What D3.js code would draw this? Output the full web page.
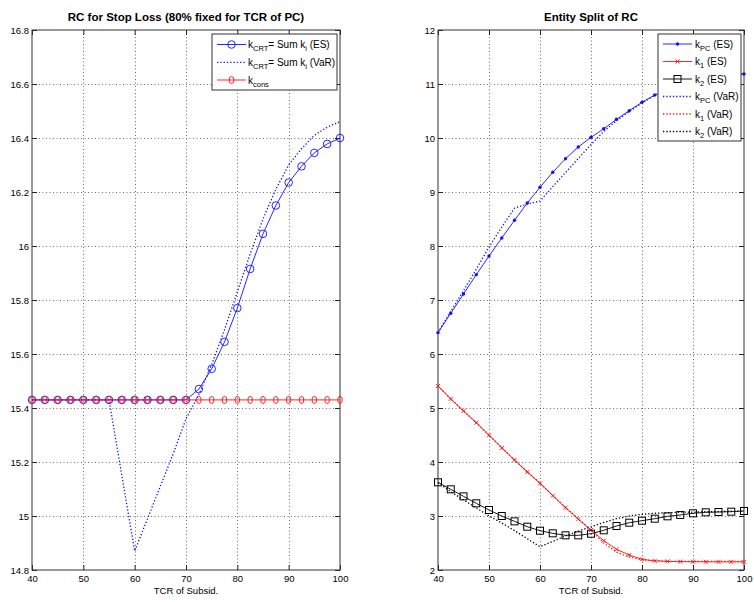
<!DOCTYPE html>
<html><head><meta charset="utf-8">
<script src="https://cdn.jsdelivr.net/npm/d3@7"></script>
<style>
body{margin:0;background:#fff}
text{font-family:"Liberation Sans",Arial,Helvetica,sans-serif;fill:#000}
</style>
</head><body><svg id="c" width="754" height="602"></svg>
<script>
// ---------- DATA ----------
const tcr = [40,42.5,45,47.5,50,52.5,55,57.5,60,62.5,65,67.5,70,72.5,75,77.5,80,82.5,85,87.5,90,92.5,95,97.5,100];

// Left panel: RC for Stop Loss
const kCRT_ES  = [15.43,15.43,15.43,15.43,15.43,15.43,15.43,15.43,15.43,15.43,15.43,15.43,15.43,15.47,15.545,15.645,15.77,15.915,16.045,16.15,16.235,16.295,16.345,16.378,16.40];
const kCRT_VaR = [15.43,15.43,15.43,15.43,15.43,15.43,15.43,15.15,14.87,14.99,15.11,15.23,15.36,15.45,15.56,15.69,15.83,15.97,16.10,16.21,16.30,16.36,16.41,16.44,16.46];
const kCons    = [15.43,15.43,15.43,15.43,15.43,15.43,15.43,15.43,15.43,15.43,15.43,15.43,15.43,15.43,15.43,15.43,15.43,15.43,15.43,15.43,15.43,15.43,15.43,15.43,15.43];

// Right panel: Entity Split of RC
const kPC_ES  = [6.395,6.754,7.111,7.469,7.815,8.148,8.476,8.796,9.087,9.365,9.617,9.833,10.013,10.17,10.346,10.506,10.661,10.796,10.90,10.98,11.04,11.09,11.13,11.16,11.185];
const k1_ES   = [5.407,5.167,4.944,4.728,4.494,4.259,4.037,3.815,3.605,3.376,3.154,2.94,2.741,2.543,2.383,2.278,2.198,2.17,2.16,2.155,2.153,2.152,2.15,2.15,2.15];
const k2_ES   = [3.624,3.494,3.364,3.235,3.111,3.0,2.901,2.802,2.728,2.679,2.642,2.642,2.672,2.735,2.815,2.876,2.913,2.95,2.994,3.019,3.05,3.068,3.074,3.08,3.093];
const kPC_VaR = [6.40,6.79,7.17,7.57,7.98,8.35,8.70,8.78,8.83,9.10,9.36,9.62,9.88,10.12,10.32,10.49,10.65,10.79,10.90,10.98,11.04,11.09,11.13,11.16,11.19];
const k1_VaR  = [5.41,5.17,4.95,4.73,4.50,4.27,4.04,3.82,3.61,3.38,3.16,2.95,2.74,2.50,2.33,2.24,2.19,2.17,2.16,2.16,2.16,2.16,2.16,2.16,2.16];
const k2_VaR  = [3.62,3.45,3.30,3.15,3.00,2.87,2.73,2.58,2.43,2.53,2.63,2.72,2.80,2.88,2.95,3.00,3.03,3.05,3.06,3.07,3.07,3.08,3.08,3.09,3.09];

// Ticks and labels
const xTicks = [40,50,60,70,80,90,100];
const leftYTicks = [14.8,15,15.2,15.4,15.6,15.8,16,16.2,16.4,16.6,16.8];
const leftYLabels = ["14.8","15","15.2","15.4","15.6","15.8","16","16.2","16.4","16.6","16.8"];
const rightYTicks = [2,3,4,5,6,7,8,9,10,11,12];
const rightYLabels = ["2","3","4","5","6","7","8","9","10","11","12"];
const titles = ["RC for Stop Loss (80% fixed for TCR of PC)", "Entity Split of RC"];
const xLabel = "TCR of Subsid.";

// ---------- DRAW ----------
const svg = d3.select("#c");
svg.append("rect").attr("width",754).attr("height",602).attr("fill","#fff");

const FS = 9.5;
const LFS = 10;
const BLUE = "#1010ff", RED = "#ff1010", BLACK = "#000";

function panel(opts){
  const {x0,x1,y0,y1,yDomain,yTicks,yLabels,title} = opts;
  const x = d3.scaleLinear().domain([40,100]).range([x0,x1]);
  const y = d3.scaleLinear().domain(yDomain).range([y1,y0]);
  const g = svg.append("g");
  // grid
  const grid = g.append("g").attr("stroke","#6e6e6e").attr("stroke-width",1).attr("stroke-dasharray","1,2.5");
  xTicks.slice(1,-1).forEach(t=>grid.append("line").attr("x1",Math.round(x(t))+0.5).attr("x2",Math.round(x(t))+0.5).attr("y1",y0).attr("y2",y1));
  yTicks.slice(1,-1).forEach(t=>grid.append("line").attr("y1",Math.round(y(t))+0.5).attr("y2",Math.round(y(t))+0.5).attr("x1",x0).attr("x2",x1));
  // axes (inward ticks)
  const fmtY = d => yLabels[yTicks.indexOf(d)];
  const ax = [
    g.append("g").attr("transform",`translate(0,${y1})`).call(d3.axisBottom(x).tickValues(xTicks).tickSizeInner(-5).tickSizeOuter(0).tickPadding(5).tickFormat(d3.format("d"))),
    g.append("g").attr("transform",`translate(0,${y0})`).call(d3.axisTop(x).tickValues(xTicks).tickSizeInner(-5).tickSizeOuter(0).tickFormat("")),
    g.append("g").attr("transform",`translate(${x0},0)`).call(d3.axisLeft(y).tickValues(yTicks).tickSizeInner(-5).tickSizeOuter(0).tickPadding(3).tickFormat(fmtY)),
    g.append("g").attr("transform",`translate(${x1},0)`).call(d3.axisRight(y).tickValues(yTicks).tickSizeInner(-5).tickSizeOuter(0).tickFormat(""))
  ];
  ax.forEach(a=>{
    a.select(".domain").remove();
    a.selectAll("line").attr("stroke","#222");
    a.selectAll("text").attr("font-size",FS).attr("font-family","'Liberation Sans',Arial,sans-serif").attr("fill","#000");
  });
  // frame
  g.append("rect").attr("x",x0).attr("y",y0).attr("width",x1-x0).attr("height",y1-y0)
    .attr("fill","none").attr("stroke","#333").attr("stroke-width",1);
  // title
  svg.append("text").attr("x",(x0+x1)/2).attr("y",21).attr("text-anchor","middle")
    .attr("font-size",11.5).attr("font-weight","bold").text(title);
  svg.append("text").attr("x",(x0+x1)/2).attr("y",594).attr("text-anchor","middle")
    .attr("font-size",FS).text(xLabel);
  return {x,y,g};
}

function series(p, vals, color, dotted, marker){
  const data = tcr.map((t,i)=>[t,vals[i]]);
  const line = d3.line().x(d=>p.x(d[0])).y(d=>p.y(d[1]));
  p.g.append("path").datum(data).attr("d",line).attr("fill","none").attr("stroke",color)
    .attr("stroke-width",dotted?1.3:0.9).attr("stroke-dasharray",dotted?"1.3,2":null);
  if(marker) data.forEach(d=>drawMarker(p.g, marker, p.x(d[0]), p.y(d[1]), color));
}

function drawMarker(g, m, cx, cy, color){
  if(m==="o") g.append("circle").attr("cx",cx).attr("cy",cy).attr("r",3.8).attr("fill","none").attr("stroke",color).attr("stroke-width",0.9);
  else if(m==="oe") g.append("ellipse").attr("cx",cx).attr("cy",cy).attr("rx",2.3).attr("ry",3.6).attr("fill","none").attr("stroke",color).attr("stroke-width",0.9);
  else if(m===".") g.append("circle").attr("cx",cx).attr("cy",cy).attr("r",1.7).attr("fill",color);
  else if(m==="x"){ const s=2;
    g.append("path").attr("d",`M${cx-s},${cy-s}L${cx+s},${cy+s}M${cx-s},${cy+s}L${cx+s},${cy-s}`).attr("stroke",color).attr("stroke-width",0.9);
  }
  else if(m==="s") g.append("rect").attr("x",cx-3.5).attr("y",cy-3.5).attr("width",7).attr("height",7).attr("fill","none").attr("stroke",color).attr("stroke-width",1);
}

function legend(items, bx, by, bw, bh, rowY, lx0, lx1, tx){
  const lg = svg.append("g");
  lg.append("rect").attr("x",bx).attr("y",by).attr("width",bw).attr("height",bh).attr("fill","#fff").attr("stroke","#333").attr("stroke-width",1);
  items.forEach((it,i)=>{
    const yy = rowY[i];
    lg.append("line").attr("x1",lx0).attr("x2",lx1).attr("y1",yy).attr("y2",yy).attr("stroke",it.color)
      .attr("stroke-width",it.dotted?1.3:0.9).attr("stroke-dasharray",it.dotted?"1.3,2":null);
    if(it.marker) drawMarker(lg, it.marker, (lx0+lx1)/2, yy, it.color);
    const t = lg.append("text").attr("x",tx).attr("y",yy+3.5).attr("font-size",LFS);
    it.parts.forEach(pt=>{
      if(pt.sub) t.append("tspan").attr("dy",3).attr("font-size",7.5).text(pt.sub);
      else t.append("tspan").attr("dy",pt.back?-3:0).text(pt.t);
    });
  });
}

// Left panel
const L = panel({x0:32,x1:340,y0:30,y1:570,yDomain:[14.8,16.8],yTicks:leftYTicks,yLabels:leftYLabels,title:titles[0]});
series(L, kCRT_ES, BLUE, false, "o");
series(L, kCRT_VaR, BLUE, true, null);
series(L, kCons, RED, false, "oe");

// Right panel
const R = panel({x0:438,x1:744,y0:30,y1:570,yDomain:[2,12],yTicks:rightYTicks,yLabels:rightYLabels,title:titles[1]});
series(R, kPC_ES, BLUE, false, ".");
series(R, k1_ES, RED, false, "x");
series(R, k2_ES, BLACK, false, "s");
series(R, kPC_VaR, BLUE, true, null);
series(R, k1_VaR, RED, true, null);
series(R, k2_VaR, BLACK, true, null);

// Legends
legend([
  {color:BLUE, marker:"o", parts:[{t:"k"},{sub:"CRT"},{t:"= Sum k",back:true},{sub:"i"},{t:" (ES)",back:true}]},
  {color:BLUE, dotted:true, parts:[{t:"k"},{sub:"CRT"},{t:"= Sum k",back:true},{sub:"i"},{t:" (VaR)",back:true}]},
  {color:RED, marker:"oe", parts:[{t:"k"},{sub:"cons"}]}
], 212, 34, 125, 56, [44.5,62.3,80], 217, 246, 248);

legend([
  {color:BLUE, marker:".", parts:[{t:"k"},{sub:"PC"},{t:" (ES)",back:true}]},
  {color:RED, marker:"x", parts:[{t:"k"},{sub:"1"},{t:" (ES)",back:true}]},
  {color:BLACK, marker:"s", parts:[{t:"k"},{sub:"2"},{t:" (ES)",back:true}]},
  {color:BLUE, dotted:true, parts:[{t:"k"},{sub:"PC"},{t:" (VaR)",back:true}]},
  {color:RED, dotted:true, parts:[{t:"k"},{sub:"1"},{t:" (VaR)",back:true}]},
  {color:BLACK, dotted:true, parts:[{t:"k"},{sub:"2"},{t:" (VaR)",back:true}]}
], 658, 34, 83, 107, [44,61.5,79,96.5,114,131.5], 663, 692, 695);
</script>
</body></html>
